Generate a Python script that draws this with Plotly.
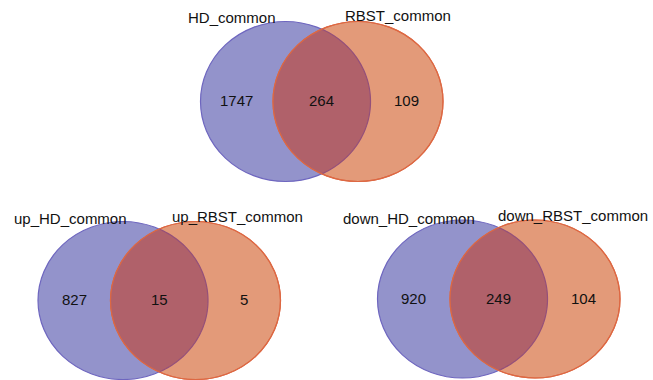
import numpy as np
import plotly.graph_objects as go

# ---- data ----
venn_names = [
    ("HD_common", "RBST_common"),
    ("up_HD_common", "up_RBST_common"),
    ("down_HD_common", "down_RBST_common"),
]
left_only = [1747, 827, 920]
overlap = [264, 15, 249]
right_only = [109, 5, 104]

# ---- layout (pixel geometry of each diagram) ----
W, H = 653, 380
# (left circle cx, right circle cx, cy, rx, ry)
geom = [
    (285.5, 358.0, 101.5, 85.0, 80.0),
    (123.0, 195.5, 300.5, 85.0, 79.0),
    (462.5, 535.0, 299.0, 85.0, 79.0),
]
label_pos = [
    ((232, 17), (398, 15)),
    ((70, 218), (237, 216)),
    ((409, 218), (573, 215)),
]
num_y = [100, 299, 298]

BLUE_FILL = "#9393CB"
BLUE_EDGE = "#6E66BF"
ORANGE_FILL = "#E39A79"
ORANGE_EDGE = "#DD6843"
LENS_FILL = "#B0616A"
LENS_EDGE = "#94507A"
FONT = "Liberation Sans, Arial, sans-serif"

fig = go.Figure()
shapes = []
annotations = []


def lens_path(c1, c2, cy, rx, ry, n=80):
    h = ry * np.sqrt(1 - ((c2 - c1) / 2.0 / rx) ** 2)
    t1 = np.arcsin(h / ry)
    ts = np.linspace(t1, -t1, n)
    xa = c1 + rx * np.cos(ts)
    ya = cy - ry * np.sin(ts)
    ts2 = np.linspace(np.pi + t1, np.pi - t1, n)
    xb = c2 + rx * np.cos(ts2)
    yb = cy - ry * np.sin(ts2)
    xs = np.concatenate([xa, xb])
    ys = np.concatenate([ya, yb])
    d = "M " + " L ".join(f"{x:.2f},{y:.2f}" for x, y in zip(xs, ys)) + " Z"
    right_arc = "M " + " L ".join(f"{x:.2f},{y:.2f}" for x, y in zip(xa, ya))
    return d, right_arc


for i, (c1, c2, cy, rx, ry) in enumerate(geom):
    shapes.append(dict(type="circle", xref="x", yref="y", x0=c1 - rx, x1=c1 + rx,
                       y0=cy - ry, y1=cy + ry, fillcolor=BLUE_FILL,
                       line=dict(color=BLUE_EDGE, width=1.2), layer="above"))
    shapes.append(dict(type="circle", xref="x", yref="y", x0=c2 - rx, x1=c2 + rx,
                       y0=cy - ry, y1=cy + ry, fillcolor=ORANGE_FILL,
                       line=dict(color=ORANGE_EDGE, width=1.2), layer="above"))
    d, rarc = lens_path(c1, c2, cy, rx, ry)
    shapes.append(dict(type="path", xref="x", yref="y", path=d, fillcolor=LENS_FILL,
                       line=dict(width=0), layer="above"))
    shapes.append(dict(type="path", xref="x", yref="y", path=rarc,
                       line=dict(color=LENS_EDGE, width=1.2), layer="above"))
    shapes.append(dict(type="circle", xref="x", yref="y", x0=c2 - rx, x1=c2 + rx,
                       y0=cy - ry, y1=cy + ry, fillcolor="rgba(0,0,0,0)",
                       line=dict(color=ORANGE_EDGE, width=1.2), layer="above"))

    (lx, ly), (rxp, ryp) = label_pos[i]
    annotations.append(dict(x=lx, y=ly, text=venn_names[i][0], showarrow=False,
                            xref="x", yref="y", font=dict(size=15, color="#111", family=FONT)))
    annotations.append(dict(x=rxp, y=ryp, text=venn_names[i][1], showarrow=False,
                            xref="x", yref="y", font=dict(size=15, color="#111", family=FONT)))
    xl = (c1 - rx + c2 - rx) / 2.0
    xr = (c2 + rx + c1 + rx) / 2.0
    xmid = (c1 + c2) / 2.0
    for x, v in zip([xl, xmid, xr], [left_only[i], overlap[i], right_only[i]]):
        annotations.append(dict(x=x, y=num_y[i], text=str(v), showarrow=False,
                                xref="x", yref="y", font=dict(size=15, color="#111", family=FONT)))

fig.update_layout(
    width=W, height=H, margin=dict(l=0, r=0, t=0, b=0),
    paper_bgcolor="white", plot_bgcolor="white",
    xaxis=dict(range=[0, W], visible=False, fixedrange=True),
    yaxis=dict(range=[H, 0], visible=False, fixedrange=True),
    shapes=shapes, annotations=annotations, showlegend=False,
)
fig.write_html("out.html", config={"displayModeBar": False},
               post_script="document.body.style.margin='0';document.body.style.overflow='hidden';")
